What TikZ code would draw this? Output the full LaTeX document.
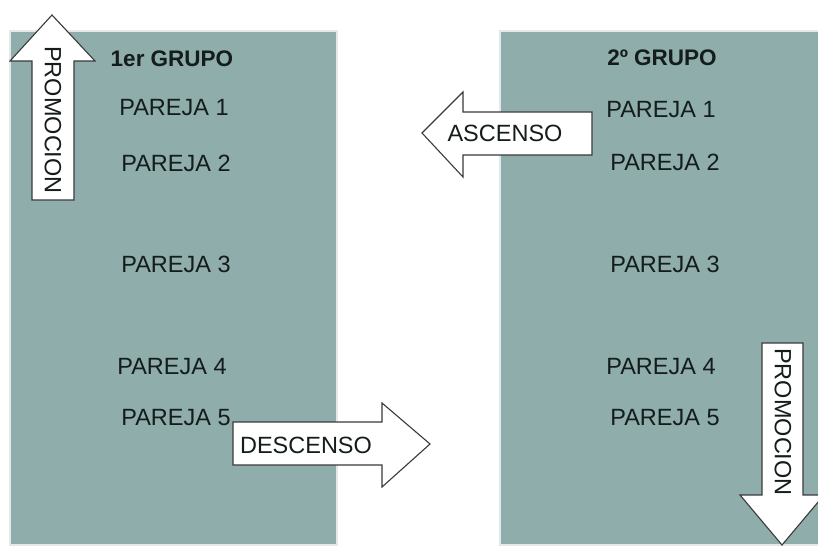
\documentclass[tikz,border=0pt]{standalone}
\usepackage{fontspec}
\setmainfont{Liberation Sans}
\definecolor{panel}{HTML}{8EADAB}
\definecolor{frame}{HTML}{E4E8E8}
\definecolor{ink}{HTML}{141C1C}
\definecolor{edge}{HTML}{3A3A3A}
\begin{document}
\begin{tikzpicture}[x=1pt,y=-1pt,
  lbl/.style={font=\fontsize{23.5}{26}\selectfont, text=ink, inner sep=0pt},
  head/.style={font=\bfseries\fontsize{22.5}{26}\selectfont, text=ink, inner sep=0pt},
  arr/.style={fill=white, draw=edge, line width=1.1pt, line join=miter},
  pnl/.style={fill=panel, draw=frame, line width=2.5pt}]
\useasboundingbox (0,0) rectangle (818,548);
\fill[white] (0,0) rectangle (818,548);
% panels
\draw[pnl] (10,31) rectangle (337,545);
\draw[pnl] (500,31) rectangle (830,545);
\fill[panel] (12,33) rectangle (334,543);
\fill[panel] (502,33) rectangle (818,543);
% left texts
\node[head] (g1) at (172,59) {1er GRUPO};
\node[lbl] (l1) at (174,108) {PAREJA 1};
\node[lbl] (l2) at (176,163) {PAREJA 2};
\node[lbl] (l3) at (176,264) {PAREJA 3};
\node[lbl] (l4) at (172,367) {PAREJA 4};
\node[lbl] (l5) at (176,418) {PAREJA 5};
% right texts
\node[head] (g2) at (662,58) {2º GRUPO};
\node[lbl] (r1) at (661,110) {PAREJA 1};
\node[lbl] (r2) at (665,162) {PAREJA 2};
\node[lbl] (r3) at (665,264) {PAREJA 3};
\node[lbl] (r4) at (661,367) {PAREJA 4};
\node[lbl] (r5) at (665,418) {PAREJA 5};
% up arrow PROMOCION
\draw[arr] (32,200) -- (32,61) -- (10,61) -- (52,15) -- (95,61) -- (74,61) -- (74,200) -- cycle;
\node[lbl, rotate=-90] (pu) at (53,120) {PROMOCION};
% down arrow PROMOCION
\draw[arr] (762,343) -- (803,343) -- (803,495) -- (824,495) -- (782,545) -- (740,495) -- (762,495) -- cycle;
\node[lbl, rotate=-90] (pd) at (783,422) {PROMOCION};
% DESCENSO
\draw[arr] (233,422) -- (382,422) -- (382,403) -- (430,444) -- (382,487) -- (382,465) -- (233,465) -- cycle;
\node[lbl] (de) at (306,445) {DESCENSO};
% ASCENSO
\draw[arr] (592,112) -- (463,112) -- (463,92) -- (422,133) -- (463,177) -- (463,155) -- (592,155) -- cycle;
\node[lbl] (as) at (505,133) {ASCENSO};
\end{tikzpicture}
\end{document}
